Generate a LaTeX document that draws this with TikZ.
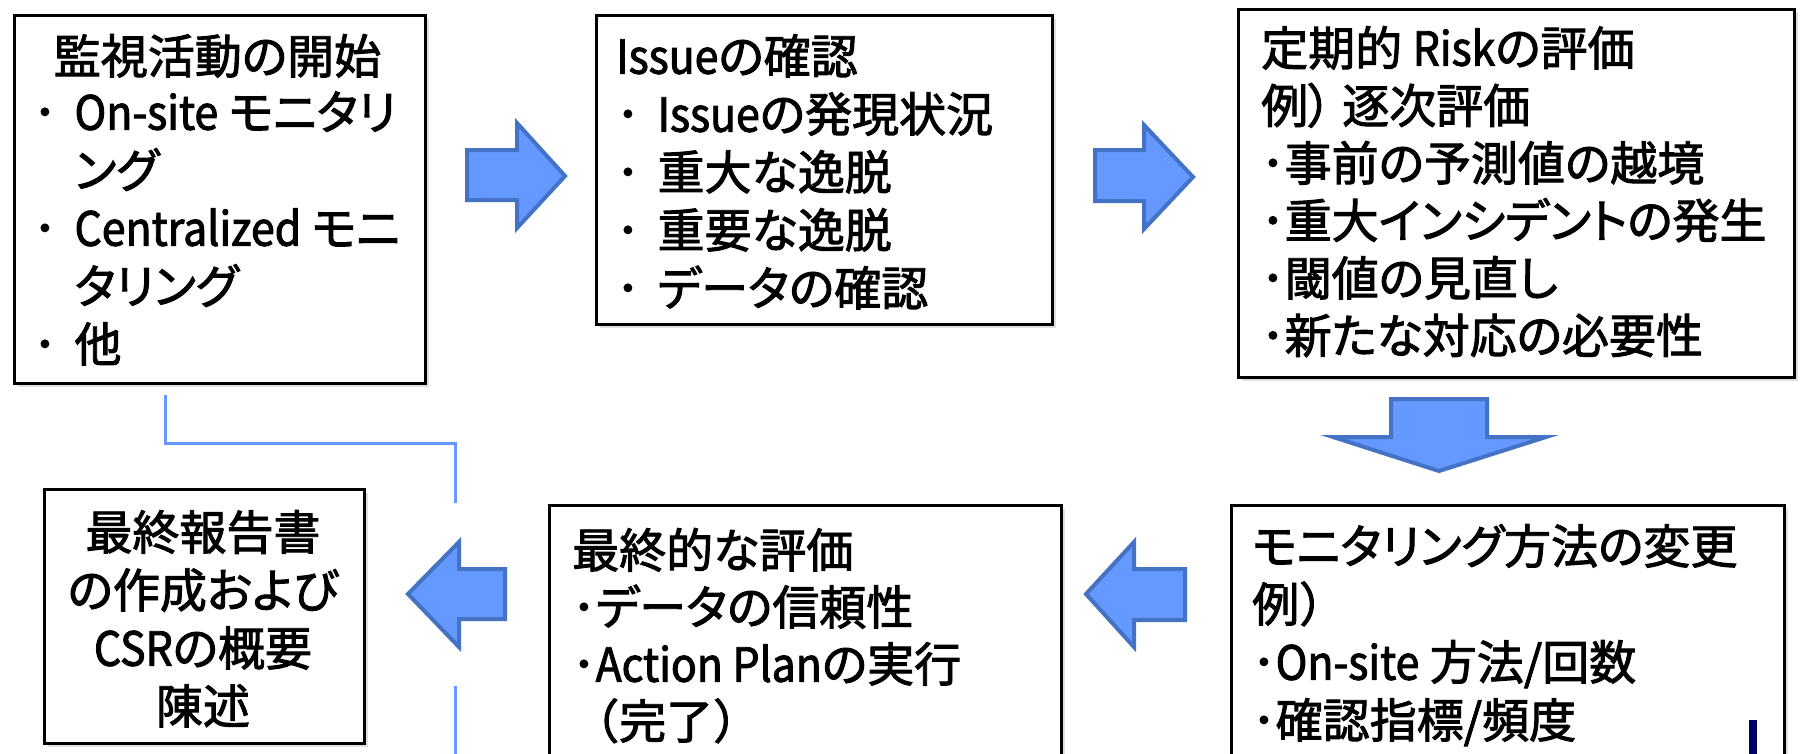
\documentclass[tikz,border=0pt]{standalone}
\usepackage{fontspec}
\setmainfont{Noto Sans CJK JP}[RawFeature=+palt, FakeBold=2]
\newfontfamily\jfwfont{Noto Sans CJK JP}[FakeBold=2]
\newfontfamily\jlatfont{Noto Sans CJK JP}[FakeBold=2, FakeStretch=0.91]
\usetikzlibrary{shadows}
\definecolor{arrfill}{RGB}{102,153,255}
\definecolor{arrline}{RGB}{68,114,196}
\definecolor{linkblue}{RGB}{102,153,255}
\definecolor{barnavy}{RGB}{0,0,102}
\newcommand\jbul{･}
\newcommand\jbsp{･\hspace{0.38em}}
\newcommand\jfl{\rule{0pt}{44pt}}
\newcommand\jlp{{\jfwfont （}}
\newcommand\jrp{{\jfwfont ）}}
\newcommand\jl[1]{{\jlatfont #1}}
\begin{document}
\begin{tikzpicture}[x=1pt,y=-1pt,
  box/.style={draw=black, line width=3pt, fill=white, inner sep=0pt, anchor=north west,
    drop shadow={shadow xshift=3pt, shadow yshift=-3pt, opacity=0.25}},
  txt/.style={anchor=north west, inner sep=0pt, align=left, font=\fontsize{47}{58}\selectfont},
  blockarrow/.style={fill=arrfill, draw=arrline, line width=4pt, line join=miter},
  link/.style={draw=linkblue, line width=3pt}
]
\fill[white] (0,0) rectangle (1802,753);
\useasboundingbox (0,0) rectangle (1802,753);

% boxes
\node[box, minimum width=411pt, minimum height=368pt] (b1) at (13,14) {};
\node[box, minimum width=456pt, minimum height=309pt] (b2) at (595,14) {};
\node[box, minimum width=556pt, minimum height=368pt] (b3) at (1237,8) {};
\node[box, minimum width=320pt, minimum height=254pt] (b4) at (43,488) {};
\node[box, minimum width=512pt, minimum height=300pt] (b5) at (548,504) {};
\node[box, minimum width=553pt, minimum height=300pt] (b6) at (1230,504) {};

% texts
\node[txt, anchor=north, align=center] (t1) at (217.5,29.5) {\jfl 監視活動の開始};
\node[txt] (t1b) at (33,85.5) {\jfl\jbsp \jl{On-site} モニタリ\\\phantom{\jbsp}ング\\\jbsp \jl{Centralized} モニ\\\phantom{\jbsp}タリング\\\jbsp 他};
\node[txt] (t2) at (616,29.5) {\jfl \jl{Issue}の確認\\\jbsp \jl{Issue}の発現状況\\\jbsp 重大な逸脱\\\jbsp 重要な逸脱\\\jbsp データの確認};
\node[txt, font=\fontsize{47}{57.5}\selectfont] (t3) at (1261,21.5) {\jfl 定期的 \jl{Risk}の評価\\例） 逐次評価\\\jbul 事前の予測値の越境\\\jbul 重大インシデントの発生\\\jbul 閾値の見直し\\\jbul 新たな対応の必要性};
\node[txt, anchor=north, align=center] (t4) at (203,505.5) {\jfl 最終報告書\\の作成および\\\jl{CSR}の概要\\陳述};
\node[txt, font=\fontsize{47}{57}\selectfont] (t5) at (572,523.5) {\jfl 最終的な評価\\\jbul データの信頼性\\\jbul \jl{Action Plan}の実行\\\jlp 完了\jrp};
\node[txt] (t6) at (1252,519.5) {\jfl モニタリング方法の変更\\例\jrp\\\jbul \jl{On-site}\ 方法/回数\\\jbul 確認指標/頻度};

% block arrows
\draw[blockarrow] (467,150) -- (517,150) -- (517,123) -- (565,176) -- (517,228) -- (517,200) -- (467,200) -- cycle;
\draw[blockarrow] (1095,150) -- (1144,150) -- (1144,125) -- (1193,177) -- (1144,229) -- (1144,201) -- (1095,201) -- cycle;
\draw[blockarrow] (1391,399) -- (1487,399) -- (1487,437) -- (1546,437) -- (1439,471) -- (1333,437) -- (1391,437) -- cycle;
\draw[blockarrow] (1185,569) -- (1134,569) -- (1134,542) -- (1086,594) -- (1134,647) -- (1134,620) -- (1185,620) -- cycle;
\draw[blockarrow] (505,569) -- (459,569) -- (459,542) -- (408,594) -- (459,647) -- (459,619) -- (505,619) -- cycle;

% thin link line
\coordinate (l0) at ([xshift=152pt, yshift=-10pt]b1.south west);
\coordinate (lk) at (455,443);
\coordinate (l1) at (455,503);
\coordinate (l2) at (455,686);
\coordinate (l3) at (455,760);
\draw[link] (l0) |- (lk) -- (l1);
\draw[link] (l2) -- (l3);

% dark bar
\fill[barnavy] (1749,720) rectangle (1757,760);
\end{tikzpicture}
\end{document}
